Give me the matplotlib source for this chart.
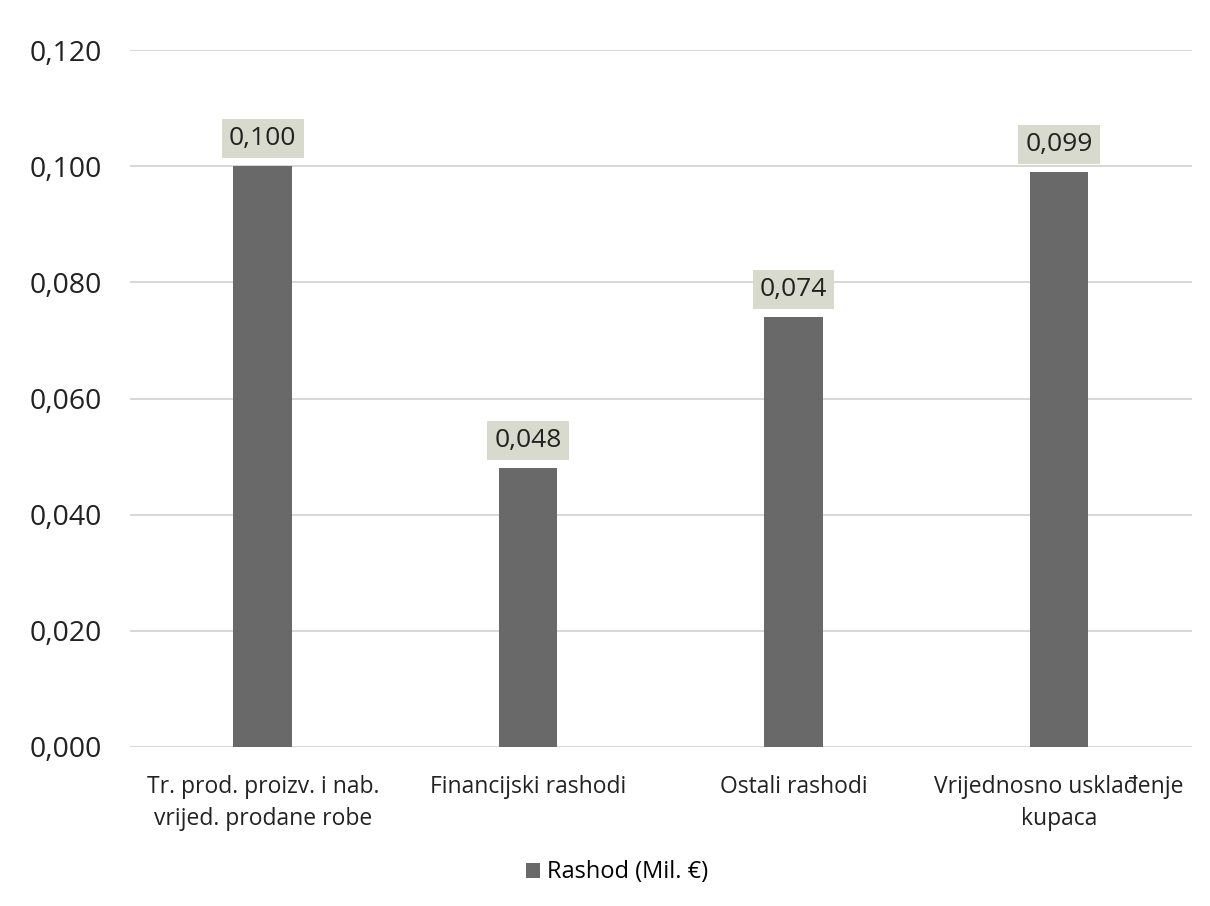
import numpy as np
import matplotlib
matplotlib.use('Agg')
import matplotlib.pyplot as plt
from matplotlib.ticker import FuncFormatter

# --- Data ---
categories = ["Tr. prod. proizv. i nab.\nvrijed. prodane robe",
              "Financijski rashodi",
              "Ostali rashodi",
              "Vrijednosno usklađenje\nkupaca"]
values = [0.100, 0.048, 0.074, 0.099]
series_name = "Rashod (Mil. €)"
yticks = [0.000, 0.020, 0.040, 0.060, 0.080, 0.100, 0.120]

plt.rcParams['font.family'] = ['Open Sans', 'DejaVu Sans']

fig = plt.figure(figsize=(12.1, 9.06), dpi=100)
ax = fig.add_axes([0.1074, 0.1755, 0.8776, 0.7693])

x = np.arange(len(categories))
bars = ax.bar(x, values, width=0.22, color="#696969", label=series_name, zorder=3)

def comma(v, _=None):
    return f"{v:.3f}".replace(".", ",")

# value labels with the shaded box
for xi, v in zip(x, values):
    ax.annotate(comma(v), (xi, v), xytext=(0, 11), textcoords="offset points",
                ha="center", va="bottom", fontsize=19, color="#222222", zorder=4,
                bbox=dict(boxstyle="square,pad=0.27", fc="#d8dacd", ec="none"))

ax.set_xlim(-0.5, len(categories) - 0.5)
ax.set_ylim(0, 0.12)
ax.set_yticks(yticks)
ax.yaxis.set_major_formatter(FuncFormatter(comma))
ax.grid(axis="y", color="#d4d4d4", linewidth=1.3, zorder=0)
ax.set_xticks(x)
ax.set_xticklabels(categories, fontsize=16.5, color="#222222", linespacing=1.45)
ax.tick_params(axis="y", labelsize=20.5, length=0, pad=20, labelcolor="#222222")
ax.tick_params(axis="x", length=0, pad=20)
for s in ax.spines.values():
    s.set_visible(False)

fig.legend(handles=[bars], labels=[series_name], loc="center",
           bbox_to_anchor=(0.51, 0.037), frameon=False, fontsize=17,
           handlelength=0.6, handleheight=0.6, handletextpad=0.3)

fig.savefig("out.png", dpi=100)
